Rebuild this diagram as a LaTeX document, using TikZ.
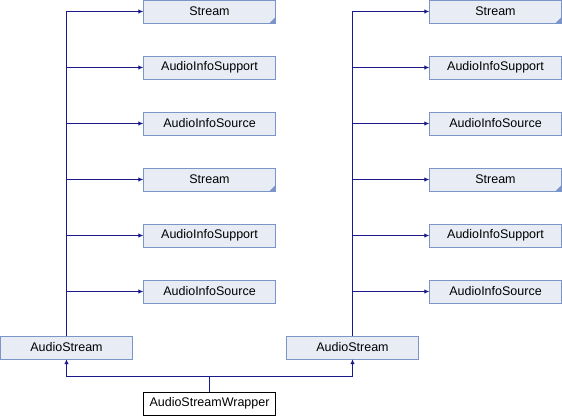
\documentclass[tikz,border=0pt]{standalone}
\usepackage{fontspec}
\setmainfont{Liberation Sans}
\usepackage{tikz}
\usetikzlibrary{arrows.meta, positioning, calc}
\definecolor{boxfill}{RGB}{232, 236, 245}
\definecolor{boxline}{RGB}{124, 149, 200}
\definecolor{edgecolor}{RGB}{25, 25, 140}

\begin{document}
\begin{tikzpicture}[
    x=1pt, y=-1pt,
    cls/.style={draw=boxline, fill=boxfill, minimum width=132pt, minimum height=23pt, inner sep=0pt, font=\fontsize{12.5}{14}\selectfont},
    stub/.style={cls, path picture={\fill[boxline] (path picture bounding box.south east) -- ++(-6pt,0) -- ++(6pt,6pt) -- cycle;}},
    top/.style={draw=black, fill=white, minimum width=132pt, minimum height=23pt, inner sep=0pt, font=\fontsize{12.5}{14}\selectfont},
    edge/.style={draw=edgecolor, line width=0.9pt, -{Latex[length=5pt, width=4.5pt]}}
]
    \useasboundingbox (0,0) rectangle (562,416);

    % Left branch
    \node[stub] (streamLa) at (209.5, 11.5) {Stream};
    \node[cls] (supportLa) at (209.5, 67.5) {AudioInfoSupport};
    \node[cls] (sourceLa) at (209.5, 123.5) {AudioInfoSource};
    \node[stub] (streamLb) at (209.5, 179.5) {Stream};
    \node[cls] (supportLb) at (209.5, 235.5) {AudioInfoSupport};
    \node[cls] (sourceLb) at (209.5, 291.5) {AudioInfoSource};
    \node[cls] (audioL) at (66.5, 347.5) {AudioStream};

    % Right branch
    \node[stub] (streamRa) at (495.5, 11.5) {Stream};
    \node[cls] (supportRa) at (495.5, 67.5) {AudioInfoSupport};
    \node[cls] (sourceRa) at (495.5, 123.5) {AudioInfoSource};
    \node[stub] (streamRb) at (495.5, 179.5) {Stream};
    \node[cls] (supportRb) at (495.5, 235.5) {AudioInfoSupport};
    \node[cls] (sourceRb) at (495.5, 291.5) {AudioInfoSource};
    \node[cls] (audioR) at (352.5, 347.5) {AudioStream};

    % Wrapper
    \node[top] (wrapper) at (209.5, 403.5) {AudioStreamWrapper};
    \coordinate (join) at (209.5, 376.5);

    % Connections
    \draw[edge] (audioL.north) |- (streamLa.west);
    \draw[edge] (audioL.north) |- (supportLa.west);
    \draw[edge] (audioL.north) |- (sourceLa.west);
    \draw[edge] (audioL.north) |- (streamLb.west);
    \draw[edge] (audioL.north) |- (supportLb.west);
    \draw[edge] (audioL.north) |- (sourceLb.west);

    \draw[edge] (audioR.north) |- (streamRa.west);
    \draw[edge] (audioR.north) |- (supportRa.west);
    \draw[edge] (audioR.north) |- (sourceRa.west);
    \draw[edge] (audioR.north) |- (streamRb.west);
    \draw[edge] (audioR.north) |- (supportRb.west);
    \draw[edge] (audioR.north) |- (sourceRb.west);

    \draw[edge] (wrapper.north) -- (join) -| (audioL.south);
    \draw[edge] (wrapper.north) -- (join) -| (audioR.south);

\end{tikzpicture}
\end{document}
